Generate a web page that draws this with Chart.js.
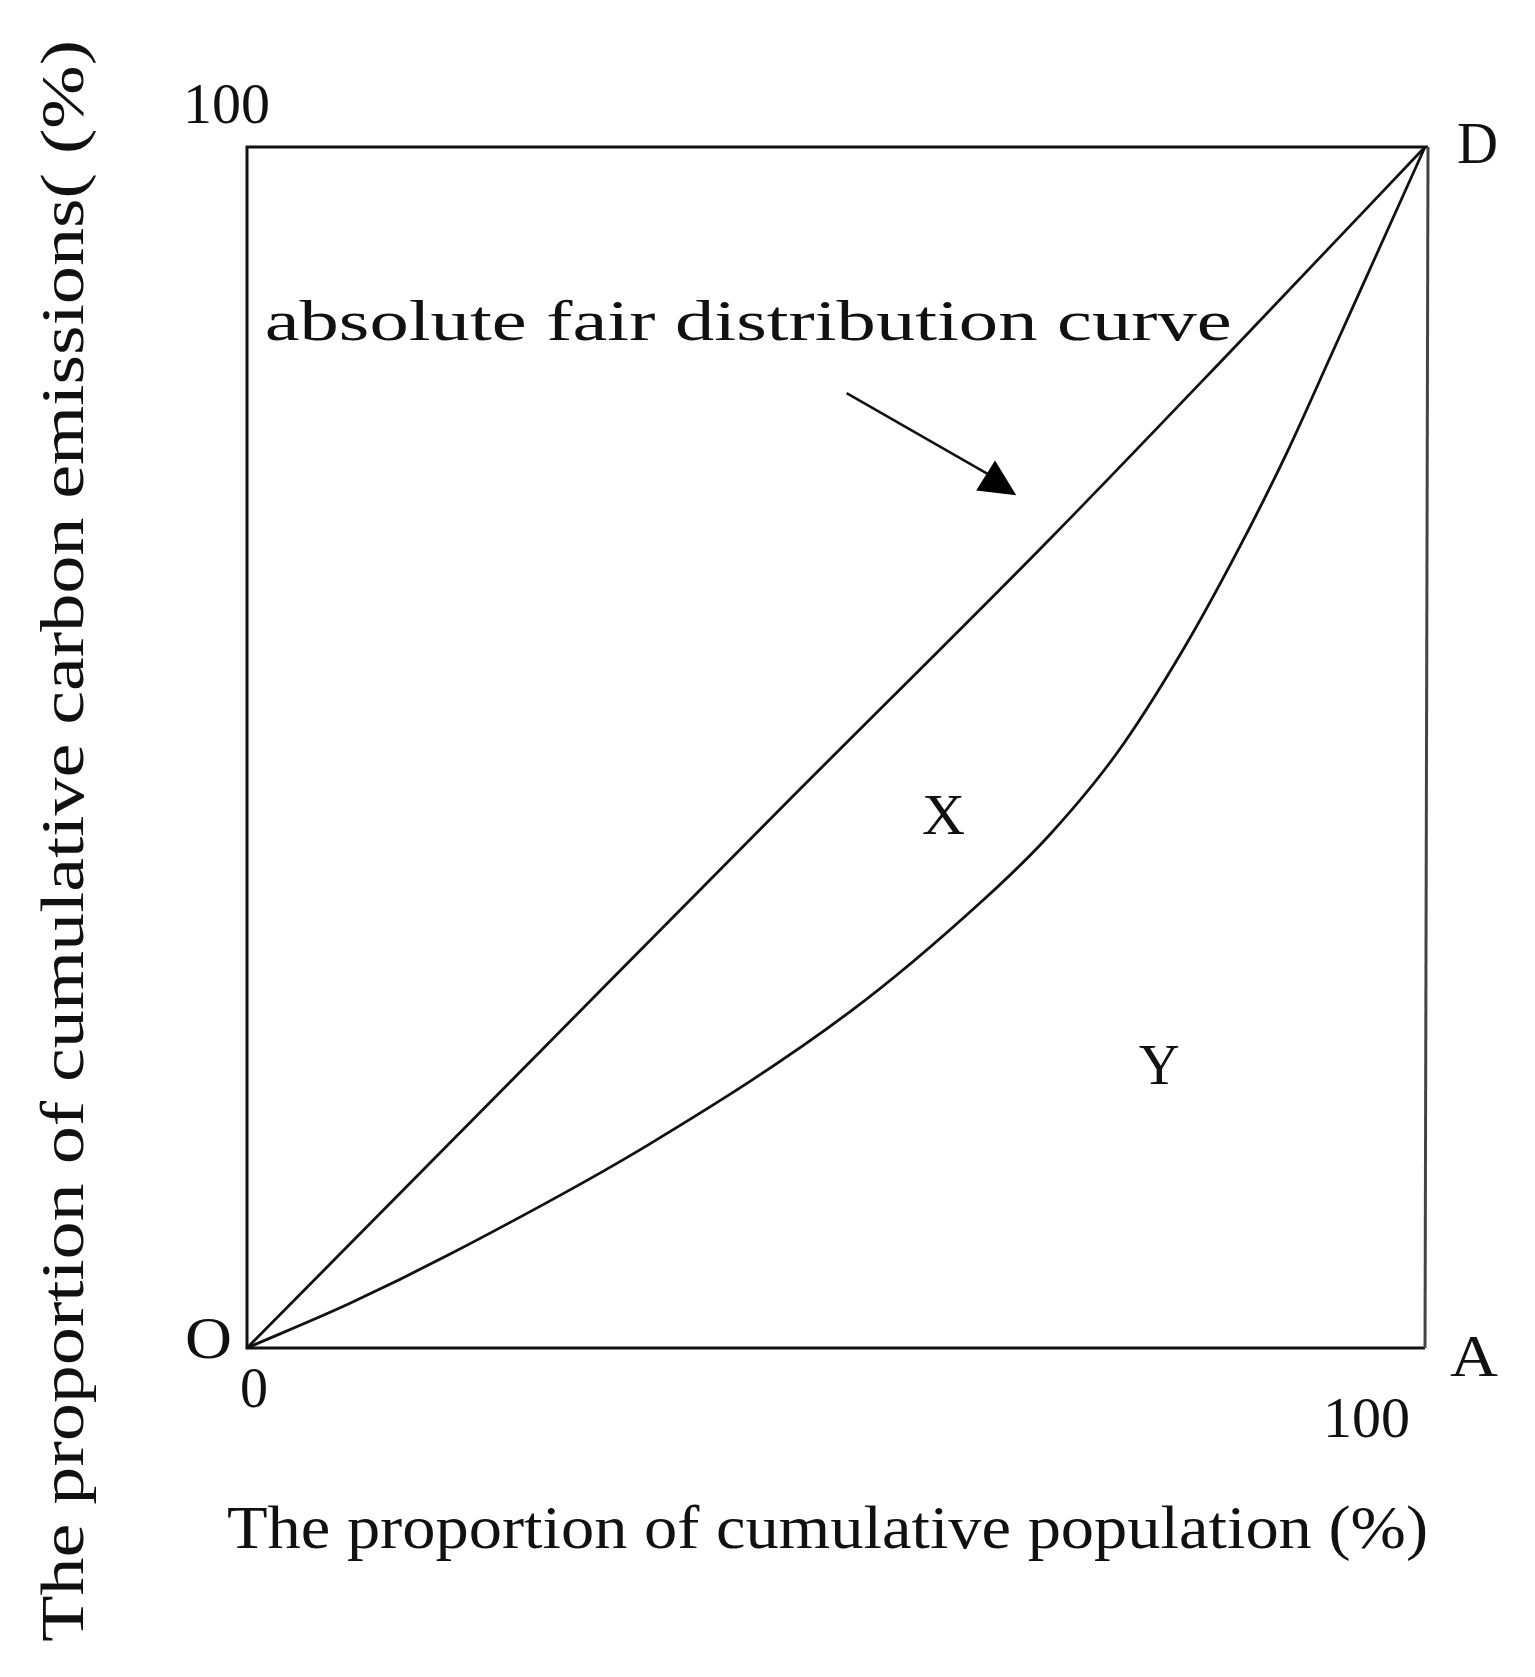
<!DOCTYPE html>
<html>
<head>
<meta charset="utf-8">
<script src="https://cdn.jsdelivr.net/npm/chart.js@4/dist/chart.umd.min.js"></script>
<style>
  body { margin: 0; background: #fff; }
  #wrap { width: 1535px; height: 1677px; }
</style>
</head>
<body>
<div id="wrap"><canvas id="lorenz"></canvas></div>
<script>
// values (percent)
const fairX = [0, 25, 46, 68.2, 84, 100];
const fairY = [0, 24.8, 45.6, 67.4, 83.5, 100];
const curveX = [0, 8.7, 17.2, 34.2, 51.2, 62.5, 68.2, 73.9, 79.5, 84, 88.3, 92, 96, 100];
const curveY = [0, 3.7, 7.8, 17.0, 28.0, 37.3, 42.8, 49.6, 58.2, 66.2, 74.6, 82.6, 91.3, 100];
const axisTicks = ['0', '100'];
const xTitle = 'The proportion of cumulative population (%)';
const yTitle = 'The proportion of cumulative carbon emissions( (%)';

const FONT = '"Liberation Serif", "DejaVu Serif", serif';

function toPoints(xs, ys) {
  return xs.map((x, i) => ({ x: x, y: ys[i] }));
}

// draw text stretched/squeezed to a given width
function fitText(ctx, text, x, y, size, width, rot) {
  ctx.save();
  ctx.font = size + 'px ' + FONT;
  ctx.textAlign = 'left';
  ctx.textBaseline = 'alphabetic';
  const w = ctx.measureText(text).width;
  ctx.translate(x, y);
  if (rot) ctx.rotate(rot);
  ctx.scale(width / w, 1);
  ctx.fillStyle = '#111';
  ctx.fillText(text, 0, 0);
  ctx.restore();
}

const decor = {
  id: 'decor',
  afterDatasetsDraw(chart) {
    const ctx = chart.ctx;
    const a = chart.chartArea;
    const xs = chart.scales.x, ys = chart.scales.y;
    const px = v => xs.getPixelForValue(v);
    const py = v => ys.getPixelForValue(v);

    // frame
    ctx.save();
    ctx.lineWidth = 3;
    ctx.strokeStyle = '#111';
    ctx.beginPath();
    ctx.moveTo(a.right + 3, a.top);
    ctx.lineTo(a.left, a.top);
    ctx.lineTo(a.left, a.bottom);
    ctx.lineTo(a.right, a.bottom);
    ctx.stroke();
    ctx.strokeStyle = '#444';
    ctx.beginPath();
    ctx.moveTo(a.right + 3, a.top);
    ctx.lineTo(a.right, a.bottom);
    ctx.stroke();

    // arrow pointing at the fair distribution line
    ctx.lineWidth = 2.5;
    ctx.strokeStyle = '#111';
    ctx.beginPath();
    ctx.moveTo(px(50.9), py(79.5));
    ctx.lineTo(px(63.2), py(72.6));
    ctx.stroke();
    ctx.fillStyle = '#000';
    ctx.beginPath();
    ctx.moveTo(px(63.5), py(73.9));
    ctx.lineTo(px(61.9), py(71.4));
    ctx.lineTo(px(65.3), py(71.0));
    ctx.closePath();
    ctx.fill();
    ctx.restore();

    // labels inside the box
    fitText(ctx, 'absolute fair distribution curve', px(1.5), py(83.9), 56, 967);
    fitText(ctx, 'X', px(57.3), py(42.8), 56, 43);
    fitText(ctx, 'Y', px(75.7), py(22.0), 56, 41);

    // corner letters and tick values
    fitText(ctx, axisTicks[1], a.left - 64, a.top - 24, 58, 87);
    fitText(ctx, 'D', a.right + 32, a.top + 16, 60, 41);
    fitText(ctx, 'O', a.left - 62, a.bottom + 10, 60, 47);
    fitText(ctx, axisTicks[0], a.left - 7, a.bottom + 59, 58, 28);
    fitText(ctx, 'A', a.right + 25, a.bottom + 28, 60, 48);
    fitText(ctx, axisTicks[1], a.right - 102, a.bottom + 89, 58, 87);

    // axis titles
    fitText(ctx, xTitle, a.left - 20, a.bottom + 200, 62, 1201);
    fitText(ctx, yTitle, a.left - 164, a.bottom + 294, 62, 1602, -Math.PI / 2);
  }
};

new Chart(document.getElementById('lorenz'), {
  type: 'line',
  data: {
    datasets: [
      {
        label: 'absolute fair distribution curve',
        data: toPoints(fairX, fairY),
        borderColor: '#111',
        borderWidth: 2.8,
        pointRadius: 0,
        cubicInterpolationMode: 'monotone',
        clip: false
      },
      {
        label: 'actual distribution curve',
        data: toPoints(curveX, curveY),
        borderColor: '#111',
        borderWidth: 2.8,
        pointRadius: 0,
        cubicInterpolationMode: 'monotone',
        clip: false
      }
    ]
  },
  options: {
    responsive: true,
    maintainAspectRatio: false,
    animation: false,
    layout: { padding: { left: 247, top: 147, right: 110, bottom: 329 } },
    plugins: { legend: { display: false }, tooltip: { enabled: false } },
    scales: {
      x: { type: 'linear', min: 0, max: 100, display: false },
      y: { type: 'linear', min: 0, max: 100, display: false }
    }
  },
  plugins: [decor]
});
</script>
</body>
</html>
